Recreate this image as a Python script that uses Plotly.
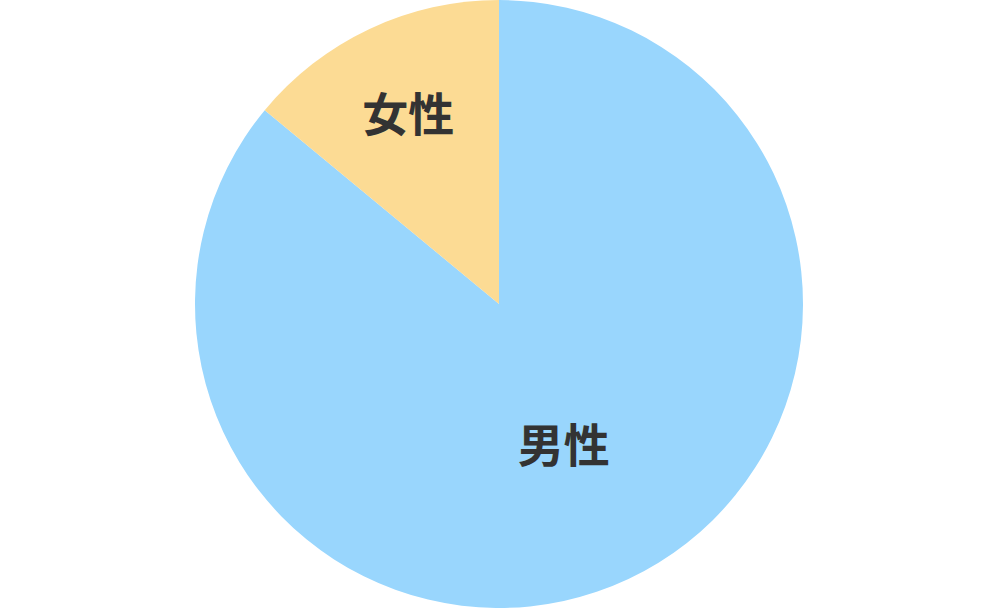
import plotly.graph_objects as go

labels = ['男性', '女性']
values = [86, 14]
colors = ['#99D6FD', '#FCDB94']

fig = go.Figure(go.Pie(
    labels=labels,
    values=values,
    sort=False,
    direction='clockwise',
    rotation=0,
    marker=dict(colors=colors, line=dict(width=0)),
    textinfo='label',
    textposition='inside',
    insidetextorientation='horizontal',
    textfont=dict(family='Noto Sans CJK JP', size=46, color='#333333', weight='bold'),
    hoverinfo='label+percent',
    showlegend=False,
))

fig.update_layout(
    width=1000,
    height=610,
    margin=dict(l=0, r=2, t=0, b=2),
    paper_bgcolor='white',
    uniformtext=dict(minsize=46, mode='show'),
)

# drop the default body margin so the pie sits flush at the top like the reference
fig.write_html("out.html", config={'displayModeBar': False},
               post_script="document.body.style.margin='0px';")
